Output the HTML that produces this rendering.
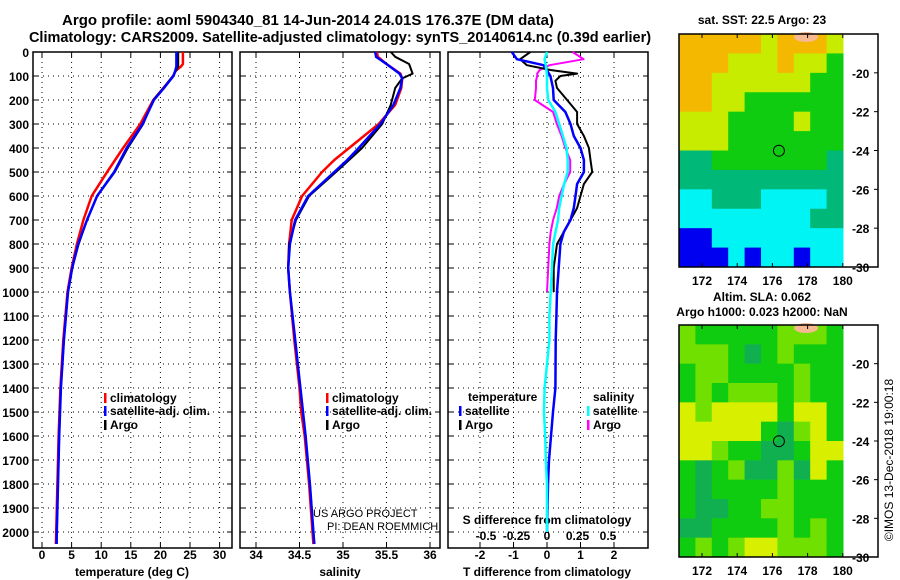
<!DOCTYPE html>
<html><head><meta charset="utf-8"><style>
html,body{margin:0;padding:0;background:#fff;}
svg{display:block;font-family:"Liberation Sans",Arial,sans-serif;}
.b{font-weight:bold;font-size:12px;}
</style></head><body>
<svg id="fig" width="900" height="580" viewBox="0 0 900 580">
<text x="308" y="25" text-anchor="middle" style="font-weight:bold;font-size:15px">Argo profile: aoml 5904340_81 14-Jun-2014 24.01S 176.37E (DM data)</text>
<text x="340" y="42" text-anchor="middle" style="font-weight:bold;font-size:14.5px">Climatology: CARS2009. Satellite-adjusted climatology: synTS_20140614.nc (0.39d earlier)</text>
<text x="762" y="24" text-anchor="middle" class="b">sat. SST: 22.5 Argo: 23</text>
<text x="762" y="301" text-anchor="middle" class="b">Altim. SLA: 0.062</text>
<text x="762" y="316" text-anchor="middle" class="b">Argo h1000: 0.023 h2000: NaN</text>
<text transform="translate(893,460) rotate(-90)" text-anchor="middle" style="font-size:12px">©IMOS 13-Dec-2018 19:00:18</text>
<text x="313" y="517" style="font-size:11px">US ARGO PROJECT</text>
<text x="327" y="530" style="font-size:11px">PI: DEAN ROEMMICH</text>
</svg>
<script>
// ---- data ----
const depthTicks = [0,100,200,300,400,500,600,700,800,900,1000,1100,1200,1300,1400,1500,1600,1700,1800,1900,2000];
const tempTicks = [0,5,10,15,20,25,30];
const salTicks = [34,34.5,35,35.5,36];
const salTickLabels = ["34","34.5","35","35.5","36"];
const tdiffTicks = [-2,-1,0,1,2];
const sdiffTicks = [-0.5,-0.25,0,0.25,0.5];
const sdiffTickLabels = ["-0.5","-0.25","0","0.25","0.5"];

const tempDepth = [0,50,60,80,100,150,200,300,400,500,600,700,800,900,1000,1200,1400,1600,1800,2000,2050];
const tempArgo = [23,23,23,22.6,22.1,20.5,18.8,17.1,14.5,12.3,9.3,7.6,6.2,5.1,4.4,3.7,3.2,2.9,2.7,2.5,2.5];
const tempClim = [23.8,23.8,23.5,22.5,22.2,20.5,18.8,16.6,13.7,11,8.4,7,5.9,5,4.3,3.6,3.1,2.8,2.6,2.4,2.35];
const tempSat = [22.7,22.7,22.7,22.5,22.2,20.6,18.9,17,14.3,12.2,9.3,7.6,6.1,5.1,4.4,3.7,3.2,2.9,2.7,2.5,2.45];

const salDepth = [0,20,50,90,110,150,220,300,400,450,500,600,700,800,900,1000,1200,1400,1500,1600,1800,2000,2050];
const salArgo = [35.55,35.6,35.76,35.8,35.68,35.6,35.55,35.45,35.22,35.07,34.92,34.61,34.46,34.38,34.37,34.39,34.45,34.51,34.54,34.57,34.62,34.66,34.67];
const salClim = [35.39,35.4,35.5,35.66,35.68,35.67,35.6,35.41,35.07,34.9,34.76,34.53,34.41,34.38,34.37,34.39,34.44,34.5,34.52,34.56,34.61,34.65,34.66];
const salSat = [35.37,35.38,35.5,35.65,35.68,35.66,35.58,35.43,35.18,35.05,34.9,34.6,34.45,34.39,34.37,34.39,34.45,34.51,34.54,34.57,34.62,34.66,34.67];

const diffArgoDepth = [0,30,55,75,90,100,120,150,200,250,300,350,400,450,500,550,600,650,700,750,800,900,1000];
const tdiffArgo = [-0.5,-0.8,-0.6,0.1,0.9,0.4,0.25,0.3,0.6,0.9,0.9,1.1,1.25,1.3,1.35,1.1,1.0,0.9,0.7,0.5,0.3,0.2,0.2];
const sdiffArgo = [0.21,0.3,0.02,-0.06,-0.08,-0.08,-0.09,-0.09,-0.1,0.05,0.08,0.12,0.15,0.19,0.19,0.14,0.1,0.08,0.05,0.03,0.02,0.01,0];
const diffSatDepth = [0,30,55,100,150,200,250,300,350,400,450,500,550,600,650,700,750,800,900,1000,1100,1200,1400,1500,1600,1700,1800,2000];
const tdiffSat = [-1.05,-0.9,-0.1,0.1,0.18,0.2,0.55,0.7,0.8,1.0,1.1,1.1,0.9,0.85,0.8,0.7,0.5,0.4,0.35,0.3,0.28,0.26,0.25,0.18,0.12,0.06,0.03,0];
const sdiffSat = [0,-0.02,-0.01,0,0,0.01,0.07,0.1,0.13,0.16,0.17,0.17,0.14,0.12,0.1,0.09,0.07,0.05,0.04,0.03,0.02,0.02,-0.02,-0.025,-0.015,-0.01,0,0];

const lonTicks = [172,174,176,178,180];
const latTicks = [-20,-22,-24,-26,-28,-30];
const sstGrid = [
"oooooyoooy","oooyyyoyyG","ooyyyyyyGG","ooyyGGGGGG","yyyGGGGyGG","yyyGGGGGGG",
"ttGGGGGGGt","tttttttttt","cctttcccct","cccccccctt","bbcccccccc","bbbcbccbcc"];
const slaGrid = [
"gGGGGGgggG","gggGtGgGGG","GggGGGGgGG","GgGgggGgGG","ygyyyyGyyG","yyyyyGtgyG",
"yygGGttGyy","GtGgttgtyG","GtGGGGgGGG","GttGGggGGG","ttGGGGgGgG","GgGgyygggG"];
const sstColors = {o:"#f4b800",y:"#c8ec00",G:"#10cc10",t:"#00b878",c:"#00f4f4",b:"#0000f0",g:"#80e000"};
const slaColors = {G:"#10cc10",g:"#70e000",y:"#d8f000",t:"#10b050"};
const argoLon = 176.37, argoLat = -24.01;

// ---- drawing ----
const NS="http://www.w3.org/2000/svg";
const svg=document.getElementById('fig');
function mk(tag,attrs,parent){const e=document.createElementNS(NS,tag);for(const k in attrs)e.setAttribute(k,attrs[k]);(parent||svg).appendChild(e);return e;}
const yTop=52, yBot=548, pxPerM=0.24;
const yD=d=>yTop+d*pxPerM;

function panel(x0,x1,name){
  const g=mk('g',{});
  
  
  return g;
}
function frame(g,x0,x1,name){
  const r=mk('rect',{x:x0,y:yTop,width:x1-x0,height:yBot-yTop,fill:'none',stroke:'#000','stroke-width':1.5},g);
  
  
  depthTicks.forEach(d=>{
    const y=yD(d);
    if(d>0){const l=mk('line',{x1:x0,x2:x1,y1:y,y2:y,stroke:'#000','stroke-dasharray':'1,4','stroke-width':1},g);
    
    }
    mk('line',{x1:x0,x2:x0+5,y1:y,y2:y,stroke:'#000'},g);
    mk('line',{x1:x1-5,x2:x1,y1:y,y2:y,stroke:'#000'},g);
  });
}
function vgrid(g,ticks,fx,x0,x1,labels,ly,name){
  ticks.forEach((t,i)=>{
    const x=fx(t);
    const l=mk('line',{x1:x,x2:x,y1:yTop,y2:yBot,stroke:'#000','stroke-dasharray':'1,4'},g);
    
    
    mk('line',{x1:x,x2:x,y1:yBot-5,y2:yBot,stroke:'#000'},g);
    mk('line',{x1:x,x2:x,y1:yTop,y2:yTop+5,stroke:'#000'},g);
    if(labels){const tx=mk('text',{x:x,y:ly,'text-anchor':'middle',class:'b'},g);tx.textContent=labels[i];
    
    }
  });
}
function line(g,xs,ds,fx,color,w,name){
  const pts=xs.map((v,i)=>fx(v).toFixed(1)+','+yD(ds[i]).toFixed(1)).join(' ');
  const p=mk('polyline',{points:pts,fill:'none',stroke:color,'stroke-width':w,'stroke-linejoin':'round'},g);
  
  
}
function label(g,x,y,txt,name,cls,anchor){
  const t=mk('text',{x:x,y:y,class:cls||'b','text-anchor':anchor||'start'},g);t.textContent=txt;
  
  
}
function legendItem(g,x,y,color,txt,name){
  mk('rect',{x:x,y:y-9,width:2.5,height:10,fill:color},g);
  label(g,x+6,y,txt,name);
}

// Panel 1: temperature
const xT=v=>42+v*5.92;
const g1=panel(33,232,'temperature-panel');
frame(g1,33,232,'temperature-panel');
vgrid(g1,tempTicks,xT,33,232,tempTicks.map(String),559,'temperature-x');
depthTicks.forEach(d=>{label(g1,29,yD(d)+5,String(d),'depth-tick-label','b','end');});
line(g1,tempClim,tempDepth,xT,'#f00',2.5,'temperature-climatology-line');
line(g1,tempArgo,tempDepth,xT,'#000',2,'temperature-argo-line');
line(g1,tempSat,tempDepth,xT,'#00f',2.5,'temperature-satellite-line');
label(g1,132,576,'temperature (deg C)','temperature-axis-title','b','middle');
legendItem(g1,104,402,'#f00','climatology','legend-climatology');
legendItem(g1,104,415,'#00f','satellite-adj. clim.','legend-satellite');
legendItem(g1,104,429,'#000','Argo','legend-argo');

// Panel 2: salinity
const xS=v=>256+(v-34)*87;
const g2=panel(240,440,'salinity-panel');
frame(g2,240,440,'salinity-panel');
vgrid(g2,salTicks,xS,240,440,salTickLabels,559,'salinity-x');
line(g2,salClim,salDepth,xS,'#f00',2.5,'salinity-climatology-line');
line(g2,salArgo,salDepth,xS,'#000',2,'salinity-argo-line');
line(g2,salSat,salDepth,xS,'#00f',2.5,'salinity-satellite-line');
label(g2,340,576,'salinity','salinity-axis-title','b','middle');
legendItem(g2,326,402,'#f00','climatology','legend-climatology-2');
legendItem(g2,326,415,'#00f','satellite-adj. clim.','legend-satellite-2');
legendItem(g2,326,429,'#000','Argo','legend-argo-2');

// Panel 3: differences
const xTD=v=>547+v*33.5;
const xSD=v=>547+v*122;
const g3=panel(448,648,'difference-panel');
frame(g3,448,648,'difference-panel');
vgrid(g3,tdiffTicks,xTD,448,648,tdiffTicks.map(String),559,'tdiff-x');
sdiffTicks.forEach((t,i)=>label(g3,xSD(t),540,sdiffTickLabels[i],'sdiff-tick-label','b','middle'));
label(g3,547,524,'S difference from climatology','sdiff-axis-title','b','middle');
label(g3,547,576,'T difference from climatology','tdiff-axis-title','b','middle');
line(g3,sdiffArgo,diffArgoDepth,xSD,'#f0f',2,'sdiff-argo-line');
line(g3,tdiffArgo,diffArgoDepth,xTD,'#000',2,'tdiff-argo-line');
line(g3,tdiffSat,diffSatDepth,xTD,'#00f',2.5,'tdiff-satellite-line');
line(g3,sdiffSat,diffSatDepth,xSD,'#0ff',2.5,'sdiff-satellite-line');
label(g3,468,401,'temperature','legend-temperature-heading');
legendItem(g3,459,415,'#00f','satellite','legend-tdiff-satellite');
legendItem(g3,459,429,'#000','Argo','legend-tdiff-argo');
label(g3,593,401,'salinity','legend-salinity-heading');
legendItem(g3,587,415,'#0ff','satellite','legend-sdiff-satellite');
legendItem(g3,587,429,'#f0f','Argo','legend-sdiff-argo');

// Maps
function map(top,bot,grid,colors,name){
  const g=panel(679,878,name);
  const lon=v=>702+(v-172)*17.6;
  const lat=v=>bot+(v+30)*(-(bot-top)/12);
  const cw=(843-679)/grid[0].length, ch=(bot-top)/grid.length;
  grid.forEach((row,r)=>{[...row].forEach((c,k)=>{
    const cell=mk('rect',{x:679+k*cw,y:top+r*ch,width:cw+0.5,height:ch+0.5,fill:colors[c]},g);
    
    
  });});
  mk('ellipse',{cx:806,cy:top+3,rx:12,ry:5,fill:'#f8b890'},g);
  const fr=mk('rect',{x:679,y:top,width:199,height:bot-top,fill:'none',stroke:'#000','stroke-width':1.5},g);
  
  
  lonTicks.forEach(v=>{const x=lon(v);mk('line',{x1:x,x2:x,y1:top,y2:top+4,stroke:'#000'},g);mk('line',{x1:x,x2:x,y1:bot-4,y2:bot,stroke:'#000'},g);
    label(g,x,bot+18,String(v),'longitude-tick-label','b','middle');});
  latTicks.forEach(v=>{const y=lat(v);mk('line',{x1:874,x2:878,y1:y,y2:y,stroke:'#000'},g);
    label(g,852,y+5,String(v),'latitude-tick-label','b','start');});
  const c=mk('circle',{cx:lon(argoLon),cy:lat(argoLat),r:5.5,fill:'none',stroke:'#000','stroke-width':1},g);
  
  
}
map(34,267,sstGrid,sstColors,'sst-map');
map(325,557,slaGrid,slaColors,'sla-map');
</script>
</body></html>
